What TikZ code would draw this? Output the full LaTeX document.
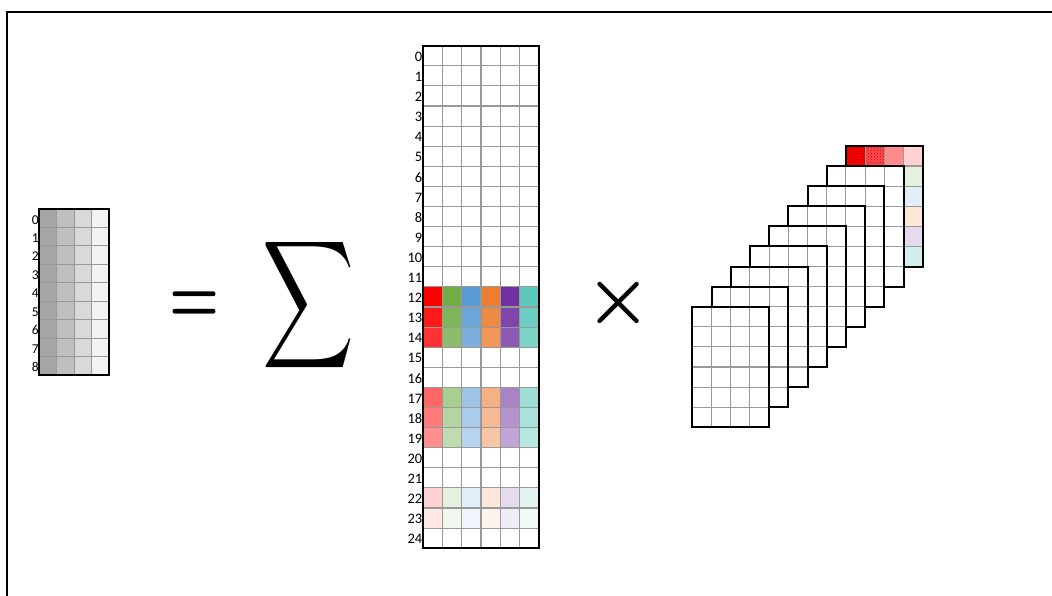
\documentclass[tikz,border=0pt]{standalone}
\usepackage{fontspec}
\usepackage{graphicx}
\newfontfamily\labfont{Carlito}
\usetikzlibrary{patterns}
\definecolor{cR}{HTML}{FF0000}
\definecolor{cG}{HTML}{70AD47}
\definecolor{cB}{HTML}{5B9BD5}
\definecolor{cO}{HTML}{ED7D31}
\definecolor{cP}{HTML}{7030A0}
\definecolor{cT}{HTML}{5CC9BC}
\definecolor{g1}{HTML}{A6A6A6}
\definecolor{g2}{HTML}{BFBFBF}
\definecolor{g3}{HTML}{D9D9D9}
\definecolor{g4}{HTML}{F2F2F2}
\tikzset{
  gridline/.style={draw=black!40, line width=1.1pt},
  border/.style={draw=black, line width=2pt},
  lbl/.style={anchor=east, inner sep=0pt, font=\labfont\fontsize{14.5}{14.5}\selectfont},
  lbls/.style={anchor=east, inner sep=0pt, font=\labfont\fontsize{13.5}{13.5}\selectfont},
  symb/.style={inner sep=0pt},
  hatch/.style={pattern=crosshatch dots, pattern color=#1},
}
\begin{document}
\begin{tikzpicture}[x=1pt,y=-1pt]
\useasboundingbox (0,0) rectangle (1052,596);
\fill[white] (0,0) rectangle (1052,596);
\draw[line width=1.8pt] (7,596) -- (7,12) -- (1052,12);

% small grey grid
\foreach \c/\col in {0/g1,1/g2,2/g3,3/g4}
  \fill[\col] ({39+\c*17.575},209) rectangle ({39+(\c+1)*17.575},375);
\foreach \c in {1,2,3}
  \draw[gridline] ({39+\c*17.575},209) -- ({39+\c*17.575},375);
\foreach \r in {1,...,8}
  \draw[gridline] (39,{209+\r*18.444}) -- (109.3,{209+\r*18.444});
\draw[border] (39,209) rectangle (109.3,375);
\foreach \r in {0,...,8}
  \node[lbls] (ls\r) at (39,{209+(\r+0.5)*18.444+1.5}) {\r};

% symbols
\node[symb] (eq) at (194.2,307) {\scalebox{5.6}[7.8]{\boldmath$=$}};
\node[symb] (sum) at (309,305.5) {\resizebox*{92pt}{143pt}{$\displaystyle\sum$}};
\node[symb] (times) at (619,302.8) {\scalebox{7.4}{\boldmath$\times$}};

% tall grid
\foreach \r/\p in {12/100,13/90,14/80,17/60,18/52,19/44,22/18,23/9}
  \foreach \c/\col in {0/cR,1/cG,2/cB,3/cO,4/cP,5/cT}
    \fill[\col!\p] ({423.3+\c*19.23},{45.7+\r*20.1}) rectangle ({423.3+(\c+1)*19.23},{45.7+(\r+1)*20.1});
\foreach \c in {1,...,5}
  \draw[gridline] ({423.3+\c*19.23},45.7) -- ({423.3+\c*19.23},548.2);
\foreach \r in {1,...,24}
  \draw[gridline] (423.3,{45.7+\r*20.1}) -- (538.7,{45.7+\r*20.1});
\draw[border] (423.3,45.7) rectangle (538.7,548.2);
\foreach \r in {0,...,24}
  \node[lbl] (lt\r) at (422.5,{45.7+(\r+0.5)*20.1+1}) {\r};

% stack of slabs: back slab (8)
\def\sx{845.9}\def\sy{145.9}
\fill[white] (\sx,\sy) rectangle ++(76.8,120.6);
\fill[cR] (\sx,\sy) rectangle ++(19.2,20.1);
\fill[hatch=red!55!black] (\sx,\sy) rectangle ++(19.2,20.1);
\fill[cR!70] ({\sx+19.2},\sy) rectangle ++(19.2,20.1);
\fill[hatch=red!80!black] ({\sx+19.2},\sy) rectangle ++(19.2,20.1);
\fill[cR!45] ({\sx+38.4},\sy) rectangle ++(19.2,20.1);
\fill[cR!18] ({\sx+57.6},\sy) rectangle ++(19.2,20.1);
\foreach \r/\col in {1/cG!18,2/cB!18,3/cO!18,4/cP!18,5/cT!28}
  \fill[\col] ({\sx+57.6},{\sy+\r*20.1}) rectangle ++(19.2,20.1);
\foreach \c in {1,2,3}
  \draw[gridline] ({\sx+\c*19.2},\sy) -- ({\sx+\c*19.2},{\sy+120.6});
\foreach \r in {1,...,5}
  \draw[gridline] (\sx,{\sy+\r*20.1}) -- ({\sx+76.8},{\sy+\r*20.1});
\draw[border] (\sx,\sy) rectangle ++(76.8,120.6);

% remaining slabs, back to front
\foreach \i in {7,6,...,0}{
  \pgfmathsetmacro\sx{692.3+\i*19.2}
  \pgfmathsetmacro\sy{306.7-\i*20.1}
  \fill[white] (\sx,\sy) rectangle ++(76.8,120.6);
  \foreach \c in {1,2,3}
    \draw[gridline] ({\sx+\c*19.2},\sy) -- ({\sx+\c*19.2},{\sy+120.6});
  \foreach \r in {1,...,5}
    \draw[gridline] (\sx,{\sy+\r*20.1}) -- ({\sx+76.8},{\sy+\r*20.1});
  \draw[border] (\sx,\sy) rectangle ++(76.8,120.6);
}
\end{tikzpicture}
\end{document}
